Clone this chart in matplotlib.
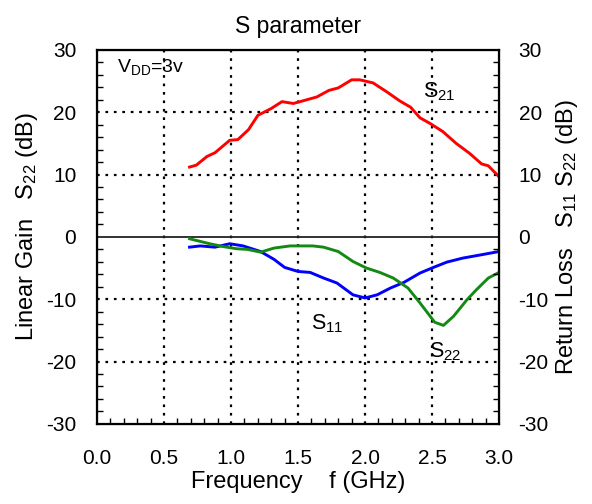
import numpy as np
import matplotlib
matplotlib.use('Agg')
import matplotlib.pyplot as plt
from matplotlib.ticker import MultipleLocator, FormatStrFormatter

plt.rcParams['font.family'] = ['Liberation Sans', 'DejaVu Sans']
plt.rcParams['mathtext.fontset'] = 'custom'
plt.rcParams['mathtext.rm'] = 'Liberation Sans'
plt.rcParams['mathtext.it'] = 'Liberation Sans'
plt.rcParams['mathtext.default'] = 'regular'
plt.rcParams['axes.unicode_minus'] = False

# S21 (linear gain)
f_s21 = [0.69, 0.74, 0.82, 0.88, 0.99, 1.05, 1.13, 1.20, 1.30, 1.38, 1.465, 1.565, 1.64,
         1.73, 1.80, 1.90, 1.96, 2.06, 2.16, 2.26, 2.34, 2.41, 2.485, 2.58, 2.68, 2.78,
         2.87, 2.92, 3.0]
s21 = [11.2, 11.5, 12.9, 13.5, 15.5, 15.6, 17.2, 19.5, 20.6, 21.7, 21.4, 22.0, 22.45,
       23.5, 23.9, 25.2, 25.2, 24.7, 23.3, 21.8, 20.8, 19.1, 18.2, 16.9, 15.0, 13.4,
       11.7, 11.4, 9.65]

# S11 (return loss)
f_s11 = [0.69, 0.77, 0.88, 0.99, 1.09, 1.22, 1.32, 1.40, 1.50, 1.59, 1.69, 1.79, 1.91,
         2.0, 2.09, 2.19, 2.29, 2.41, 2.51, 2.61, 2.73, 2.86, 3.0]
s11 = [-1.65, -1.45, -1.65, -1.1, -1.45, -2.35, -3.6, -4.9, -5.55, -5.7, -6.6, -7.4,
       -9.3, -9.8, -9.3, -8.2, -7.3, -5.8, -4.9, -4.05, -3.4, -2.9, -2.35]

# S22 (return loss)
f_s22 = [0.69, 0.84, 0.94, 1.04, 1.12, 1.22, 1.32, 1.44, 1.61, 1.69, 1.80, 1.91, 2.01,
         2.11, 2.21, 2.32, 2.41, 2.52, 2.585, 2.66, 2.76, 2.83, 2.92, 3.0]
s22 = [-0.3, -1.1, -1.55, -1.9, -2.0, -2.45, -1.8, -1.45, -1.45, -1.65, -2.35, -3.95,
       -5.0, -5.7, -6.6, -8.2, -10.6, -13.7, -14.2, -12.75, -10.1, -8.5, -6.6, -5.7]

fig = plt.figure(figsize=(5.92, 5.04), dpi=100)
ax = fig.add_axes([0.164, 0.159, 0.679, 0.742])

ax.plot(f_s21, s21, color='#ff0000', lw=2.1)
ax.plot(f_s11, s11, color='#0000ff', lw=2.1)
ax.plot(f_s22, s22, color='#148a14', lw=2.1)

ax.axhline(0, color='#222222', lw=1.3, zorder=1)

for x in [0.5, 1.0, 1.5, 2.0, 2.5]:
    ax.axvline(x, color='black', lw=1.6, ls=(0, (1.2, 2.6)), zorder=0)
for y in [-20, -10, 10, 20]:
    ax.axhline(y, color='black', lw=1.6, ls=(0, (1.2, 2.6)), zorder=0)

ax2 = ax.twinx()
ax.set_xlim(0, 3.0)
ax.set_ylim(-30, 30)
ax2.set_ylim(-30, 30)

ax.xaxis.set_major_locator(MultipleLocator(0.5))
ax.xaxis.set_minor_locator(MultipleLocator(0.1))
ax.xaxis.set_major_formatter(FormatStrFormatter('%.1f'))
ax.yaxis.set_major_locator(MultipleLocator(10))
ax.yaxis.set_minor_locator(MultipleLocator(2))
ax.tick_params(which='both', direction='in', labelsize=15, top=False)
ax.tick_params(which='major', length=0)
ax.tick_params(axis='x', which='major', pad=18)
ax.tick_params(axis='y', which='major', pad=15)
ax.tick_params(which='minor', length=4, width=1)

ax2.yaxis.set_major_locator(MultipleLocator(10))
ax2.yaxis.set_minor_locator(MultipleLocator(2))
ax2.tick_params(which='both', direction='in', labelsize=15)
ax2.tick_params(which='major', length=0, pad=14)
ax2.tick_params(which='minor', length=4, width=1)

for s in ax2.spines.values():
    s.set_linewidth(1.6)

ax.set_title('S parameter', fontsize=16.5, pad=12)
ax.set_xlabel('Frequency    f (GHz)', fontsize=17, labelpad=2)
ax.set_ylabel('Linear Gain   S$_{22}$ (dB)', fontsize=17, labelpad=4)
ax.yaxis.label.set_y(0.527)
ax2.set_ylabel('Return Loss   S$_{11}$ S$_{22}$ (dB)', fontsize=17, labelpad=4)

ax.text(0.15, 27.2, 'V$_{DD}$=3v', fontsize=14, va='center')
ax.text(2.43, 23.3, 'S$_{21}$', fontsize=15.5, va='center')
ax.text(1.6, -13.9, 'S$_{11}$', fontsize=15.5, va='center')
ax.text(2.48, -18.4, 'S$_{22}$', fontsize=15.5, va='center')

fig.savefig('out.png', dpi=100)
